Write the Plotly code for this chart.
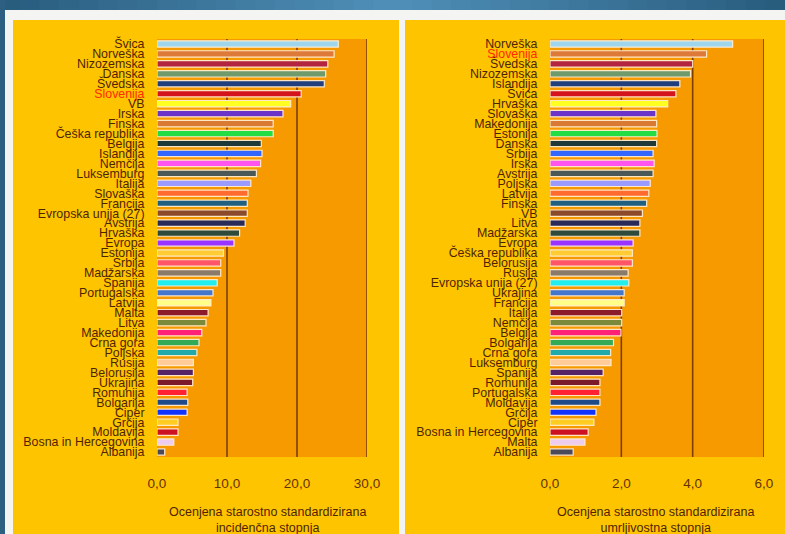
import plotly.graph_objects as go

# Incidence (left panel)
inc_countries = ["Švica", "Norveška", "Nizozemska", "Danska", "Švedska", "Slovenija", "VB", "Irska",
                 "Finska", "Češka republika", "Belgija", "Islandija", "Nemčija", "Luksemburg", "Italija",
                 "Slovaška", "Francija", "Evropska unija (27)", "Avstrija", "Hrvaška", "Evropa", "Estonija",
                 "Srbija", "Madžarska", "Španija", "Portugalska", "Latvija", "Malta", "Litva", "Makedonija",
                 "Crna gora", "Poljska", "Rusija", "Belorusija", "Ukrajina", "Romunija", "Bolgarija", "Ciper",
                 "Grčija", "Moldavija", "Bosna in Hercegovina", "Albanija"]
inc_values = [25.9, 25.3, 24.4, 24.1, 23.9, 20.6, 19.1, 18.0, 16.6, 16.6, 14.9, 15.0, 14.8, 14.2, 13.4,
              13.0, 12.9, 12.9, 12.6, 11.8, 11.0, 9.5, 9.1, 9.1, 8.6, 8.0, 7.7, 7.3, 7.0, 6.4,
              6.0, 5.7, 5.2, 5.2, 5.1, 4.3, 4.4, 4.3, 3.0, 3.0, 2.4, 1.1]

# Mortality (right panel)
mort_countries = ["Norveška", "Slovenija", "Švedska", "Nizozemska", "Islandija", "Švica", "Hrvaška",
                  "Slovaška", "Makedonija", "Estonija", "Danska", "Srbija", "Irska", "Avstrija", "Poljska",
                  "Latvija", "Finska", "VB", "Litva", "Madžarska", "Evropa", "Češka republika", "Belorusija",
                  "Rusija", "Evropska unija (27)", "Ukrajina", "Francija", "Italija", "Nemčija", "Belgija",
                  "Bolgarija", "Crna gora", "Luksemburg", "Španija", "Romunija", "Portugalska", "Moldavija",
                  "Grčija", "Ciper", "Bosna in Hercegovina", "Malta", "Albanija"]
mort_values = [5.12, 4.39, 4.00, 3.94, 3.64, 3.53, 3.30, 2.97, 2.99, 3.00, 2.99, 2.89, 2.92, 2.89, 2.81,
               2.77, 2.71, 2.59, 2.52, 2.52, 2.33, 2.31, 2.31, 2.19, 2.21, 2.08, 2.08, 2.01, 2.01, 1.99,
               1.78, 1.70, 1.71, 1.49, 1.40, 1.40, 1.40, 1.29, 1.23, 1.07, 0.98, 0.65]

# Bar colours by rank position (same palette in both panels)
bar_colors = ["#9ed6ee", "#dd7a3a", "#b3243e", "#6f9a6c", "#203f7c", "#d3141c", "#ffff22", "#6a34c8",
              "#d97a34", "#22dd44", "#1f3838", "#3366ff", "#ff55ee", "#4a5858", "#9a9aff", "#ff6a2e",
              "#1f5f80", "#8b4a2b", "#2a2a58", "#2e4a3a", "#9933ff", "#ffcc33", "#ff5566", "#8a7a6a",
              "#22eeee", "#4477cc", "#ffff88", "#8b1a2a", "#7a8a3a", "#ff2277", "#33aa55", "#22aaaa",
              "#ffcc99", "#552266", "#7a1a2a", "#ff2233", "#1f4a8a", "#1133ff", "#ffcc22", "#cc1122",
              "#eeccee", "#4a4a5a"]

inc_ticks = [0, 10, 20, 30]
mort_ticks = [0, 2, 4, 6]
inc_title = "Ocenjena starostno standardizirana<br>incidenčna stopnja"
mort_title = "Ocenjena starostno standardizirana<br>umrljivostna stopnja"
highlight = "Slovenija"

LABEL = "#4e2400"
GRID = "#7b3f00"
FONT = "Liberation Sans, Arial, sans-serif"


def tick_text(names):
    return [f'<span style="color:#ff2a00">{n}</span>' if n == highlight else n for n in names]


fig = go.Figure()
fig.add_trace(go.Bar(x=inc_values, y=inc_countries, orientation="h", width=0.64,
                     marker=dict(color=bar_colors, line=dict(color="rgba(255,236,205,0.95)", width=1.2)),
                     xaxis="x", yaxis="y", showlegend=False))
fig.add_trace(go.Bar(x=mort_values, y=mort_countries, orientation="h", width=0.64,
                     marker=dict(color=bar_colors, line=dict(color="rgba(255,236,205,0.95)", width=1.2)),
                     xaxis="x2", yaxis="y2", showlegend=False))

W, H = 785, 534
ydom = [1 - 457 / H, 1 - 39 / H]


def px(x0, y0, x1, y1, color):
    return dict(type="rect", xref="paper", yref="paper", x0=x0 / W, x1=x1 / W,
                y0=1 - y1 / H, y1=1 - y0 / H, fillcolor=color, line_width=0, layer="below")


shapes = []
# header band with a soft horizontal gradient
n = 40
for i in range(n):
    t = (i + 0.5) / n
    k = 1 - abs(t - 0.5) * 2
    r = int(40 + 40 * k)
    g = int(92 + 52 * k)
    b = int(125 + 60 * k)
    shapes.append(px(W * i / n, 0, min(W, W * (i + 1) / n + 1), 10, f"rgb({r},{g},{b})"))
shapes.append(px(0, 0, 5, H, "#2c5f82"))
shapes.append(px(5, 10, W, H, "#f4f4f2"))
shapes.append(px(13, 20, 399, H, "#ffc400"))
shapes.append(px(405, 20, W, H, "#ffc400"))
# plot areas
for xr, yr in (("x", "y"), ("x2", "y2")):
    shapes.append(dict(type="rect", xref=f"{xr} domain", yref=f"{yr} domain", x0=0, x1=1, y0=0, y1=1,
                       fillcolor="#f79a00", line_width=0, layer="below"))
# vertical grid lines at the non-zero ticks
for xr, yr, ticks in (("x", "y", inc_ticks), ("x2", "y2", mort_ticks)):
    for v in ticks[1:]:
        shapes.append(dict(type="line", xref=xr, yref=f"{yr} domain", x0=v, x1=v, y0=0, y1=1,
                           line=dict(color=GRID, width=1.6), layer="below"))

common_x = dict(showgrid=False, zeroline=False, showline=False, ticks="outside", ticklen=14,
                tickcolor="rgba(0,0,0,0)", tickfont=dict(family=FONT, size=13.5, color="#643200"),
                tickformat=".1f", fixedrange=True, automargin=False)
common_y = dict(type="category", autorange="reversed", showgrid=False, zeroline=False, showline=False,
                ticks="outside", ticklen=9, tickcolor="rgba(0,0,0,0)",
                tickfont=dict(family=FONT, size=12.4, color=LABEL), fixedrange=True, automargin=False)

fig.update_layout(
    width=W, height=H, margin=dict(l=0, r=0, t=0, b=0, pad=0, autoexpand=False),
    paper_bgcolor="#2c5f82", plot_bgcolor="rgba(0,0,0,0)",
    separators=", ", bargap=0.3,
    xaxis=dict(domain=[157 / W, 367 / W], range=[0, 30], tickvals=inc_ticks, anchor="y", **common_x),
    yaxis=dict(domain=ydom, anchor="x", tickvals=inc_countries, ticktext=tick_text(inc_countries),
               **common_y),
    xaxis2=dict(domain=[550 / W, 764 / W], range=[0, 6], tickvals=mort_ticks, anchor="y2", **common_x),
    yaxis2=dict(domain=ydom, anchor="x2", tickvals=mort_countries, ticktext=tick_text(mort_countries),
                **common_y),
    shapes=shapes,
    annotations=[
        dict(text=inc_title, xref="paper", yref="paper", x=267 / W, y=1 - 520 / H, showarrow=False,
             xanchor="center", yanchor="middle", font=dict(family=FONT, size=12.5, color=LABEL)),
        dict(text=mort_title, xref="paper", yref="paper", x=655 / W, y=1 - 520 / H, showarrow=False,
             xanchor="center", yanchor="middle", font=dict(family=FONT, size=12.5, color=LABEL)),
    ],
)

fig.write_html("out.html")
